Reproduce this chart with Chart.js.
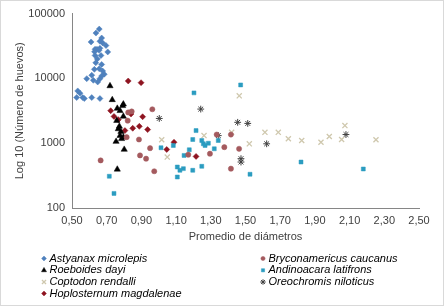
<!DOCTYPE html>
<html>
<head>
<meta charset="utf-8">
<script src="https://cdn.jsdelivr.net/npm/chart.js@4/dist/chart.umd.min.js"></script>
<style>
html,body{margin:0;padding:0;background:#fff;}
#wrap{width:444px;height:306px;position:relative;}
canvas{display:block;}
</style>
</head>
<body>
<div id="wrap"><canvas id="c" width="444" height="306"></canvas></div>
<script>
// ---- Data ----
const seriesNames = ["Astyanax microlepis","Bryconamericus caucanus","Roeboides dayi","Andinoacara latifrons","Coptodon rendalli","Oreochromis niloticus","Hoplosternum magdalenae"];

const astyanaxX = [0.657,0.638,0.671,0.610,0.661,0.677,0.696,0.633,0.644,0.656,0.661,0.630,0.706,0.633,0.667,0.646,0.637,0.671,0.629,0.657,0.677,0.686,0.671,0.661,0.614,0.585,0.623,0.648,0.533,0.546,0.562,0.571,0.527,0.614,0.661];
const astyanaxY = [57700,50100,42000,36500,37400,35200,32100,28200,28200,27200,29200,25800,25600,22600,22600,20000,17400,16400,13800,14100,13000,11600,10900,9900,11200,9900,9350,8800,6410,5910,5060,4890,5060,5060,4890];

const brycoX = [0.824,0.844,0.963,0.821,0.815,0.886,0.950,0.892,0.927,0.665,0.974,1.334,1.416,1.378,1.295,1.463,1.416,1.170];
const brycoY = [2980,3090,3340,2230,1240,1140,838,648,577,543,369,1360,1360,869,688,820,405,664];

const roeboX = [0.719,0.732,0.796,0.761,0.792,0.777,0.796,0.758,0.773,0.767,0.782,0.777,0.796,0.786,0.754,0.801,0.761];
const roeboY = [7650,4670,4010,3440,3780,3170,2590,2230,1820,1660,1510,1310,1240,1170,1060,800,395];

const andinoX = [1.472,1.203,1.215,1.196,1.248,1.257,1.267,1.286,1.343,1.320,1.176,1.146,1.107,1.142,1.122,1.107,1.196,1.248,1.526,1.084,1.820,1.013,0.715,0.742,2.179];
const andinoY = [7930,5980,1565,1140,1100,979,922,1000,1100,820,792,648,429,405,382,301,382,440,332,922,512,851,309,168,400];

const coptoX = [1.464,1.017,1.049,1.261,1.420,1.522,1.612,1.689,1.747,1.824,1.935,1.983,2.054,2.073,2.252];
const coptoY = [5380,1130,611,1310,1470,979,1470,1470,1170,1100,1035,1270,1140,1870,1130];

const oreoX = [1.003,1.242,1.455,1.513,1.343,1.622,1.474,1.474,2.079];
const oreoY = [2410,3360,2100,2020,1310,979,577,512,1360];

const hoploX = [0.824,0.898,0.723,0.742,0.767,0.840,0.907,0.850,0.888,0.936,0.805,1.088,1.046,1.215];
const hoploY = [9120,8590,3170,2590,2310,2820,2560,1700,1820,1620,1565,1035,800,625];

const xTicks = [0.5,0.7,0.9,1.1,1.3,1.5,1.7,1.9,2.1,2.3,2.5];
const yTicks = [100,1000,10000,100000];

// ---- Build datasets ----
function zip(xs, ys){ return xs.map((x,i)=>({x:x, y:ys[i]})); }

const styles = [
  {pointStyle:'rectRot', radius:3, bg:'#4f81bd', bc:'#4f81bd', bw:0.5},
  {pointStyle:'circle', radius:2.6, bg:'#a45a5e', bc:'#a45a5e', bw:0.5},
  {pointStyle:'triangle', radius:3.6, bg:'#000000', bc:'#000000', bw:0.5},
  {pointStyle:'rect', radius:2.8, bg:'#2b9cc0', bc:'#2b9cc0', bw:0.5},
  {pointStyle:'crossRot', radius:3.6, bg:'#d4cdb5', bc:'#cfc8ae', bw:1.3},
  {pointStyle:'star', radius:3.4, bg:'#404040', bc:'#404040', bw:1},
  {pointStyle:'rectRot', radius:3, bg:'#8e1420', bc:'#8e1420', bw:0.5}
];
const seriesData = [
  zip(astyanaxX, astyanaxY),
  zip(brycoX, brycoY),
  zip(roeboX, roeboY),
  zip(andinoX, andinoY),
  zip(coptoX, coptoY),
  zip(oreoX, oreoY),
  zip(hoploX, hoploY)
];
const datasets = seriesNames.map((n,i)=>({
  label:n,
  data:seriesData[i],
  pointStyle:styles[i].pointStyle,
  pointRadius:styles[i].radius,
  pointBackgroundColor:styles[i].bg,
  pointBorderColor:styles[i].bc,
  pointBorderWidth:styles[i].bw,
  showLine:false
}));
// draw order: put later series drawn on top similar to Excel
const FONT = "'Liberation Sans', Arial, sans-serif";

function fmtComma(v){ return v.toFixed(2).replace('.', ','); }

const customLegend = {
  id:'customLegend',
  afterDraw(chart){
    const ctx = chart.ctx;
    ctx.save();
    // chart frame
    ctx.strokeStyle = '#d9d9d9';
    ctx.lineWidth = 1;
    ctx.strokeRect(0.5,0.5,443,305);
    // legend
    const colX = [44, 263];
    const rowY = [258.5, 270.3, 282, 293.5];
    ctx.font = 'italic 11px ' + FONT;
    ctx.textBaseline = 'middle';
    ctx.textAlign = 'left';
    seriesNames.forEach((name,i)=>{
      const col = i % 2, row = Math.floor(i/2);
      const x = colX[col], y = rowY[row];
      const s = styles[i];
      ctx.fillStyle = s.bg;
      ctx.strokeStyle = s.bc;
      ctx.lineWidth = s.bw;
      Chart.helpers.drawPoint(ctx, {pointStyle:s.pointStyle, radius:s.radius*0.8, rotation:0, borderWidth:s.bw}, x, y);
      ctx.fillStyle = '#000';
      ctx.fillText(name, x + 5.5, y);
    });
    ctx.restore();
  }
};

new Chart(document.getElementById('c'), {
  type:'scatter',
  data:{datasets:datasets},
  plugins:[customLegend],
  options:{
    responsive:false,
    animation:false,
    devicePixelRatio:1,
    layout:{padding:{left:6, top:12, right:25, bottom:60}},
    plugins:{legend:{display:false}, tooltip:{enabled:false}},
    scales:{
      x:{
        type:'linear',
        min:0.5, max:2.5,
        afterBuildTicks(s){ s.ticks = xTicks.map(v=>({value:v})); },
        afterFit(s){ s.height = 38; },
        grid:{display:false, drawTicks:false},
        border:{display:true, color:'#868686', width:1},
        ticks:{padding:6, color:'#404040', font:{family:FONT, size:11}, callback:(v)=>fmtComma(v), maxRotation:0, autoSkip:false},
        title:{display:true, text:'Promedio de diámetros', color:'#404040', font:{family:FONT, size:11}, padding:{top:0,bottom:2}}
      },
      y:{
        type:'logarithmic',
        min:100, max:100000,
        afterBuildTicks(s){ s.ticks = yTicks.map(v=>({value:v, major:true})); },
        afterFit(s){ s.width = 66; },
        grid:{display:false, drawTicks:false},
        border:{display:true, color:'#868686', width:1},
        ticks:{padding:7, color:'#404040', font:{family:FONT, size:11}, callback:(v)=>String(v), autoSkip:false},
        title:{display:true, text:'Log 10 (Número de huevos)', color:'#404040', font:{family:FONT, size:11}, padding:{top:7,bottom:0}}
      }
    }
  }
});
</script>
</body>
</html>
